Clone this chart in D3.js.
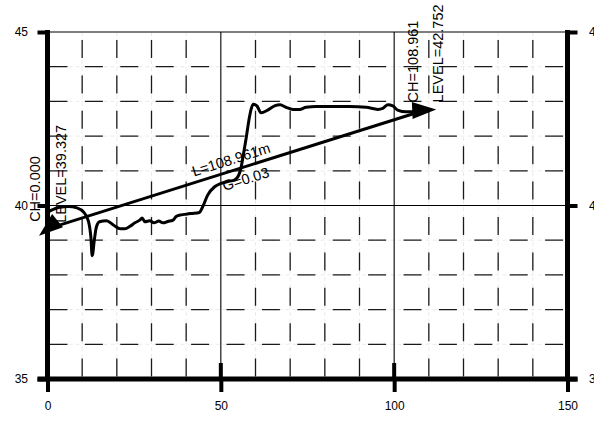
<!DOCTYPE html>
<html>
<head>
<meta charset="utf-8">
<script src="https://cdn.jsdelivr.net/npm/d3@7"></script>
<style>
  body { margin: 0; background: #fff; }
  svg { display: block; font-family: "Liberation Sans", Arial, sans-serif; }
</style>
</head>
<body>
<svg id="chart" width="594" height="423"></svg>
<script>
// chainage (m) and level (m) of the ground profile
var chainage = [0, 1.5, 3.5, 6, 8.5, 10.5, 11.8, 12.5, 12.9, 13.5, 14.1, 15, 17, 19, 21, 22.3,
  23.8, 25.2, 26.6, 27.3, 28.1, 29.5, 30.7, 32.1, 33.3, 34.7, 36.2, 37.1, 38.6, 40, 41.4, 43.8,
  44.8, 46.2, 48.2, 50.1, 52, 53.9, 55.2, 55.9, 56.5, 57.3, 58.1, 58.8, 59.4, 60.4, 61.6, 63.5,
  65.5, 67.1, 68.8, 70.8, 72.7, 74.6, 77.5, 82.3, 87.1, 91.9, 95.3, 96.7, 98.2, 99.6, 101,
  103.5, 106.3, 108.961];
var level = [39.8, 39.88, 39.95, 39.97, 39.93, 39.8, 39.55, 39.1, 38.55, 39.0, 39.38, 39.53,
  39.56, 39.44, 39.33, 39.33, 39.4, 39.5, 39.58, 39.64, 39.53, 39.56, 39.5, 39.55, 39.5, 39.54,
  39.58, 39.68, 39.73, 39.75, 39.77, 39.8, 39.97, 40.3, 40.54, 40.64, 40.69, 40.73, 40.88,
  41.12, 41.46, 41.94, 42.46, 42.8, 42.92, 42.87, 42.67, 42.75, 42.87, 42.9, 42.83, 42.77,
  42.77, 42.83, 42.85, 42.85, 42.85, 42.83, 42.77, 42.8, 42.9, 42.87, 42.75, 42.7, 42.7, 42.72];

// straight grade line between the two end points
var gradeCh = [0, 108.961];
var gradeLevel = [39.327, 42.752];
var lengthLabel = "L=108.961m";
var gradeLabel = "G=0.03";

var xTicks = [0, 50, 100, 150];
var yTicks = [35, 40, 45];
var xMinor = [10, 20, 30, 40, 60, 70, 80, 90, 110, 120, 130, 140];
var yMinor = [36, 37, 38, 39, 41, 42, 43, 44];
var xMajor = [50, 100];
var yMajor = [40, 45];

var svg = d3.select("#chart");
svg.append("rect").attr("width", 594).attr("height", 423).attr("fill", "#fff");

var x = d3.scaleLinear().domain([0, 150]).range([47.5, 567.5]);
var y = d3.scaleLinear().domain([35, 45]).range([379, 32]);

// minor grid: faint underlay then dark dashes
var grid = svg.append("g");
grid.selectAll(".vf").data(xMinor).enter().append("line")
    .attr("x1", x).attr("x2", x).attr("y1", y(45)).attr("y2", y(35))
    .attr("stroke", "#ebebeb").attr("stroke-width", 1).attr("stroke-dasharray", "4,3");
grid.selectAll(".hf").data(yMinor).enter().append("line")
    .attr("x1", x(0)).attr("x2", x(150)).attr("y1", y).attr("y2", y)
    .attr("stroke", "#ebebeb").attr("stroke-width", 1).attr("stroke-dasharray", "4,3");
grid.selectAll(".vd").data(xMinor).enter().append("line")
    .attr("x1", x).attr("x2", x).attr("y1", y(45)).attr("y2", y(35))
    .attr("stroke", "#1a1a1a").attr("stroke-width", 1.3)
    .attr("stroke-dasharray", "18,17.4").attr("stroke-dashoffset", 27.4);
grid.selectAll(".hd").data(yMinor).enter().append("line")
    .attr("x1", x(0)).attr("x2", x(150)).attr("y1", y).attr("y2", y)
    .attr("stroke", "#1a1a1a").attr("stroke-width", 1.3)
    .attr("stroke-dasharray", "18,17.4").attr("stroke-dashoffset", 33.4);

// major grid
grid.selectAll(".vm").data(xMajor).enter().append("line")
    .attr("x1", x).attr("x2", x).attr("y1", y(45)).attr("y2", y(35))
    .attr("stroke", "#000").attr("stroke-width", 1.1);
grid.selectAll(".hm").data(yMajor).enter().append("line")
    .attr("x1", x(0)).attr("x2", x(150)).attr("y1", y).attr("y2", y)
    .attr("stroke", "#000").attr("stroke-width", 1.1);

// axes
function styleAxis(g) {
  g.select(".domain").remove();
  g.selectAll(".tick line").attr("stroke", "#000").attr("stroke-width", 4);
  g.selectAll(".tick text").attr("fill", "#000").style("font-size", "12px")
    .style("font-family", "'Liberation Sans', Arial, sans-serif");
}
svg.append("g").attr("transform", "translate(0," + y(35) + ")")
    .call(d3.axisBottom(x).tickValues(xTicks).tickSize(13).tickPadding(9.5)
      .tickFormat(d3.format("d")))
    .call(styleAxis);
svg.append("g").attr("transform", "translate(" + x(0) + ",0)")
    .call(d3.axisLeft(y).tickValues(yTicks).tickSize(10).tickPadding(9.5)
      .tickFormat(d3.format("d")))
    .call(styleAxis);
svg.append("g").attr("transform", "translate(" + x(150) + ",0)")
    .call(d3.axisRight(y).tickValues(yTicks).tickSize(10).tickPadding(11.5)
      .tickFormat(d3.format("d")))
    .call(styleAxis);

// upward ticks at the major stations
svg.selectAll(".up").data(xMajor).enter().append("line")
    .attr("x1", x).attr("x2", x).attr("y1", y(35) - 16).attr("y2", y(35))
    .attr("stroke", "#000").attr("stroke-width", 4);

// thick frame
var frame = svg.append("g").attr("stroke", "#000").attr("stroke-width", 5);
frame.append("line").attr("x1", x(0) - 10).attr("x2", x(150) + 10)
    .attr("y1", y(35)).attr("y2", y(35));
frame.append("line").attr("x1", x(0)).attr("x2", x(0))
    .attr("y1", y(45) - 2).attr("y2", y(35));
frame.append("line").attr("x1", x(150)).attr("x2", x(150))
    .attr("y1", y(45) - 2).attr("y2", y(35));

// ground profile
var pts = chainage.map(function (c, i) { return [c, level[i]]; });
svg.append("path").datum(pts)
    .attr("fill", "none").attr("stroke", "#000").attr("stroke-width", 3)
    .attr("stroke-linejoin", "round")
    .attr("d", d3.line().x(function (d) { return x(d[0]); })
      .y(function (d) { return y(d[1]); }).curve(d3.curveMonotoneX));

// grade line with arrowheads
var p0 = [x(gradeCh[0]), y(gradeLevel[0])];
var p1 = [x(gradeCh[1]), y(gradeLevel[1])];
svg.append("line").attr("x1", p0[0]).attr("y1", p0[1]).attr("x2", p1[0]).attr("y2", p1[1])
    .attr("stroke", "#000").attr("stroke-width", 3);
var ang = Math.atan2(p1[1] - p0[1], p1[0] - p0[0]) * 180 / Math.PI;

function arrow(p, a) {
  svg.append("path")
      .attr("transform", "translate(" + p[0] + "," + p[1] + ") rotate(" + a + ")")
      .attr("d", "M11,0 L-13,-8.5 L-13,8.5 Z")
      .attr("fill", "#000");
}
arrow(p1, ang + 15);
arrow(p0, ang + 180 - 22);

// end labels
var lab = svg.append("g").attr("fill", "#000").style("font-size", "14.5px");
function vtext(px, py, t) {
  lab.append("text").attr("transform", "translate(" + px + "," + py + ") rotate(-90)")
      .attr("text-anchor", "start").text(t);
}
vtext(p0[0] - 7.5, p0[1] - 7, "CH=" + gradeCh[0].toFixed(3));
vtext(p0[0] + 18, p0[1] - 6, "LEVEL=" + gradeLevel[0].toFixed(3));
vtext(p1[0] - 7, p1[1] - 7.6, "CH=" + gradeCh[1].toFixed(3));
vtext(p1[0] + 18, p1[1] - 7.6, "LEVEL=" + gradeLevel[1].toFixed(3));

var mid = [(p0[0] + p1[0]) / 2, (p0[1] + p1[1]) / 2];
lab.append("text")
    .attr("transform", "translate(" + mid[0] + "," + mid[1] + ") rotate(" + ang + ")")
    .attr("text-anchor", "middle").attr("x", -2).attr("y", -6).text(lengthLabel);
lab.append("text")
    .attr("transform", "translate(" + mid[0] + "," + mid[1] + ") rotate(" + ang + ")")
    .attr("text-anchor", "middle").attr("x", 6).attr("y", 17).text(gradeLabel);
</script>
</body>
</html>
